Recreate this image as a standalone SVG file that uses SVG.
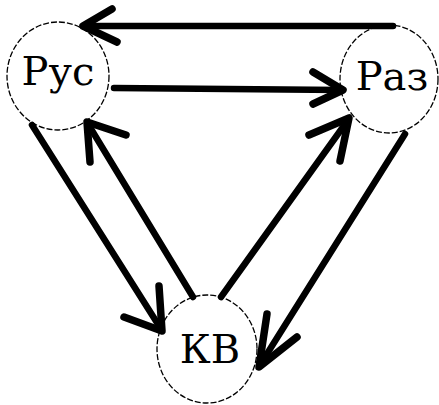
<svg xmlns="http://www.w3.org/2000/svg" width="439" height="405" viewBox="0 0 439 405">
<style>
.node ellipse{fill:none;stroke:#000;stroke-width:1.3;stroke-dasharray:6 2}
.node text{font-family:'DejaVu Serif',serif;font-size:40px;fill:#000;text-anchor:middle}
.edge{fill:none;stroke:#000;stroke-width:6.5;stroke-linejoin:round;stroke-linecap:round}
.head{stroke-width:7.5}
</style>
<rect width="439" height="405" fill="#fff"/>
<g id="connectors">
<g id="e-raz-rus"><path class="edge" d="M393,26 L84,26"/><polyline class="edge head" points="112,9 83,26 117,42"/></g>
<g id="e-rus-raz"><path class="edge" d="M114,88 L341,90"/><polyline class="edge head" points="313,72 343,90 313,104"/></g>
<g id="e-rus-kv"><path class="edge" d="M32,125 L161,329"/><polyline class="edge head" points="159,286 162,331 124,317"/></g>
<g id="e-kv-rus"><path class="edge" d="M193,297 L88,124"/><polyline class="edge head" points="90,162 87,122 126,135"/></g>
<g id="e-kv-raz"><path class="edge" d="M221,297 L348,120"/><polyline class="edge head" points="309,135 349,118 340,161"/></g>
<g id="e-raz-kv"><path class="edge" d="M405,134 L260,365"/><polyline class="edge head" points="267,314 259,367 297,337"/></g>
</g>
<g id="node-rus" class="node"><ellipse cx="58" cy="76" rx="51" ry="54"/><text x="58" y="85">Рус</text></g>
<g id="node-raz" class="node"><ellipse cx="389" cy="79" rx="49" ry="54"/><text x="392" y="90">Раз</text></g>
<g id="node-kv" class="node"><ellipse cx="207" cy="349" rx="50" ry="54"/><text x="210" y="363">КВ</text></g>
</svg>
